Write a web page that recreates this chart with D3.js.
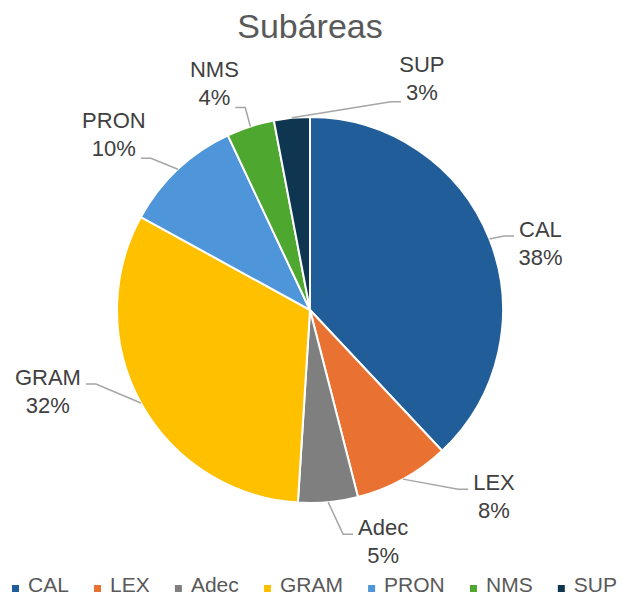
<!DOCTYPE html>
<html>
<head>
<meta charset="utf-8">
<script src="https://cdn.jsdelivr.net/npm/d3@7"></script>
<style>
  body { margin: 0; background: #fff; }
  text { font-family: "Liberation Sans", Arial, sans-serif; }
</style>
</head>
<body>
<script>
// data
var categories = ['CAL', 'LEX', 'Adec', 'GRAM', 'PRON', 'NMS', 'SUP'];
var percents = [38, 8, 5, 32, 10, 4, 3];
var colors = ['#215E99', '#E97132', '#7F7F7F', '#FFC000', '#4E95D9', '#4EA72E', '#0F3650'];

// label offsets from the point where the leader meets the slice edge
var labelNudge = [[51, -2], [91, 11], [55, 33], [-93, -18], [-64, -41], [-36, -49], [130, -46]];

var width = 623, height = 596;
var cx = 310, cy = 310, r = 193;

var slices = categories.map(function (c, i) {
    return { name: c, value: percents[i], color: colors[i], nudge: labelNudge[i] };
});

var svg = d3.select('body').append('svg')
    .attr('width', width)
    .attr('height', height);

svg.append('text')
    .attr('x', cx)
    .attr('y', 38)
    .attr('text-anchor', 'middle')
    .attr('font-size', 34)
    .attr('fill', '#595959')
    .text('Subáreas');

var pie = d3.pie()
    .sort(null)
    .value(function (d) { return d.value; });

var arcs = pie(slices);

var arc = d3.arc().innerRadius(0).outerRadius(r);
var edge = d3.arc().innerRadius(r).outerRadius(r);

var g = svg.append('g')
    .attr('transform', 'translate(' + cx + ',' + cy + ')');

g.selectAll('path.slice')
    .data(arcs)
    .enter()
    .append('path')
    .attr('class', 'slice')
    .attr('d', arc)
    .attr('fill', function (d) { return d.data.color; })
    .attr('stroke', '#fff')
    .attr('stroke-width', 2);

// labels + leader lines
var labels = g.selectAll('g.label')
    .data(arcs)
    .enter()
    .append('g')
    .attr('class', 'label');

labels.each(function (d) {
    var sel = d3.select(this);
    var s = edge.centroid(d);
    var lx = s[0] + d.data.nudge[0];
    var ly = s[1] + d.data.nudge[1];

    var t1 = sel.append('text')
        .attr('x', lx).attr('y', ly)
        .attr('text-anchor', 'middle')
        .attr('font-size', 22)
        .attr('fill', '#404040')
        .text(d.data.name);
    var t2 = sel.append('text')
        .attr('x', lx).attr('y', ly + 28)
        .attr('text-anchor', 'middle')
        .attr('font-size', 22)
        .attr('fill', '#404040')
        .text(d.data.value + '%');

    // attach to the second line when the slice edge sits below the label
    var useSecond = s[1] > ly + 28;
    var w = (useSecond ? t2 : t1).node().getComputedTextLength();
    var ey = useSecond ? ly + 30 : ly - 1;
    var toRight = lx > s[0];
    var ex = toRight ? lx - w / 2 - 5 : lx + w / 2 + 5;
    var bx = toRight ? ex - 10 : ex + 10;
    if (Math.abs(bx - s[0]) < 2 || (toRight ? bx < s[0] : bx > s[0])) bx = ex;

    sel.insert('polyline', 'text')
        .attr('points', [s, [bx, ey], [ex, ey]].map(function (p) { return p.join(','); }).join(' '))
        .attr('fill', 'none')
        .attr('stroke', '#A6A6A6')
        .attr('stroke-width', 1.5);
});

// legend
var legend = svg.append('g').attr('class', 'legend');
var items = legend.selectAll('g')
    .data(slices)
    .enter()
    .append('g');

items.append('rect')
    .attr('width', 7)
    .attr('height', 7)
    .attr('y', 585)
    .attr('fill', function (d) { return d.color; });

items.append('text')
    .attr('x', 16)
    .attr('y', 592)
    .attr('font-size', 21)
    .attr('fill', '#595959')
    .text(function (d) { return d.name; });

var widths = [];
items.each(function () {
    widths.push(16 + d3.select(this).select('text').node().getComputedTextLength());
});
var left = 12, right = 617;
var gap = (right - left - d3.sum(widths)) / (widths.length - 1);
var x = left;
items.attr('transform', function (d, i) {
    var t = 'translate(' + x + ',0)';
    x += widths[i] + gap;
    return t;
});
</script>
</body>
</html>
